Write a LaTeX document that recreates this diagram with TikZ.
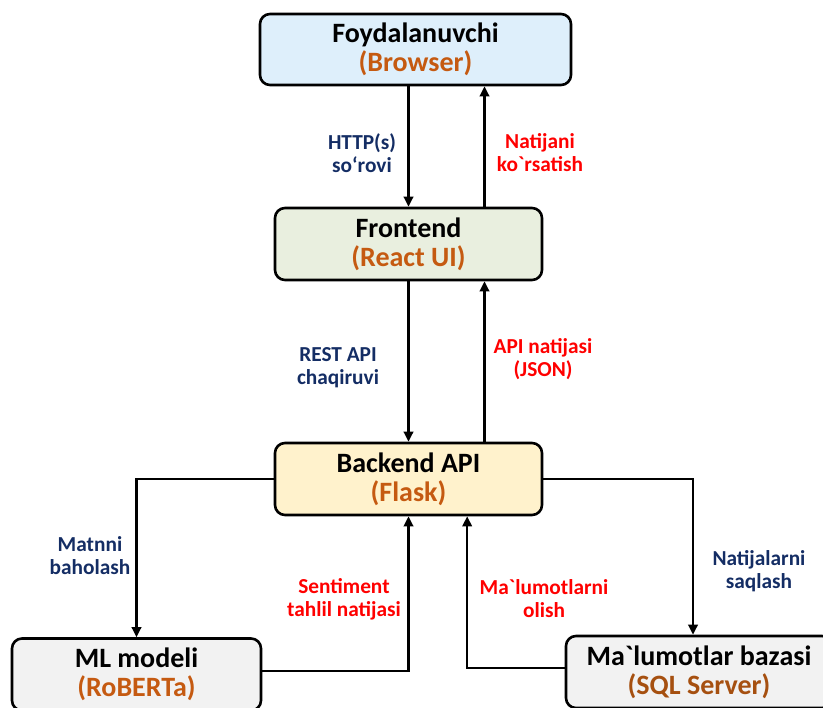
\documentclass[tikz,border=0pt]{standalone}
\usepackage{fontspec}
\setmainfont{Carlito}[Ligatures=TeXOff]
\usepackage{tikz}
\usetikzlibrary{arrows.meta}

\definecolor{userfill}{RGB}{222,239,251}
\definecolor{frontfill}{RGB}{233,239,223}
\definecolor{backfill}{RGB}{255,242,204}
\definecolor{greyfill}{RGB}{242,242,242}
\definecolor{subtxt}{RGB}{197,90,17}
\definecolor{subdark}{RGB}{166,80,16}
\definecolor{navytxt}{RGB}{20,45,100}
\definecolor{redtxt}{RGB}{255,0,0}

\begin{document}
\begin{tikzpicture}[x=0.75pt,y=0.75pt,yscale=-1,xscale=1,
  box/.style={draw=black, line width=1.95pt, rounded corners=7.5pt, align=center, inner sep=0pt, font=\fontsize{21}{21.75}\selectfont\bfseries},
  conn/.style={line width=1.8pt, -{Triangle[length=7.5pt,width=7pt]}},
  lbl/.style={align=center, inner sep=0pt, font=\fontsize{16}{17.25}\selectfont\bfseries}]
%set diagram size 823 x 707
\useasboundingbox (0,0) rectangle (823,707);
\clip (0,0) rectangle (823,707);

% Box Node
\draw (415.5,49.5) node [box, fill=userfill, minimum width=233.25pt, minimum height=53.25pt] (user) {Foydalanuvchi\\\textcolor{subtxt}{(Browser)}};
% Box Node
\draw (408.5,244) node [box, fill=frontfill, minimum width=200.25pt, minimum height=54pt] (front) {Frontend\\\textcolor{subtxt}{(React UI)}};
% Box Node
\draw (408.5,479) node [box, fill=backfill, minimum width=200.25pt, minimum height=54pt] (back) {Backend API\\\textcolor{subtxt}{(Flask)}};
% Box Node
\draw (136.5,674.5) node [box, fill=greyfill, minimum width=186.75pt, minimum height=54pt] (ml) {ML modeli\\\textcolor{subtxt}{(RoBERTa)}};
% Box Node
\draw (699,672) node [box, fill=greyfill, minimum width=199.5pt, minimum height=54pt] (db) {Ma`lumotlar bazasi\\\textcolor{subdark}{(SQL Server)}};

% Text Node
\draw (362,153) node [lbl, text=navytxt] (httpl) {HTTP(s)\\so‘rovi};
% Text Node
\draw (540,153) node [lbl, text=redtxt] (showl) {Natijani\\ko`rsatish};
% Text Node
\draw (338,368) node [lbl, text=navytxt] (restl) {REST API\\chaqiruvi};
% Text Node
\draw (543,359) node [lbl, text=redtxt] (apil) {API natijasi\\(JSON)};
% Text Node
\draw (90,556) node [lbl, text=navytxt] (evall) {Matnni\\baholash};
% Text Node
\draw (344,599) node [lbl, text=redtxt] (sentl) {Sentiment\\tahlil natijasi};
% Text Node
\draw (544,599) node [lbl, text=redtxt] (getl) {Ma`lumotlarni\\olish};
% Text Node
\draw (759,571) node [lbl, text=navytxt] (savel) {Natijalarni\\saqlash};

% Connection
\draw [conn] (front.north |- user.south) -- (front.north);
% Connection
\draw [conn] ([xshift=57pt]front.north) -- ([xshift=57pt]front.north |- user.south);
% Connection
\draw [conn] (front.south) -- (back.north);
% Connection
\draw [conn] ([xshift=57pt]back.north) -- ([xshift=57pt]front.south);
% Connection
\draw [conn] (back.west) -| (ml.north);
% Connection
\draw [conn] ([yshift=-2.6pt]ml.east) -| (back.south);
% Connection
\draw [conn] ([yshift=-3pt]db.west) -| ([xshift=44pt]back.south);
% Connection
\draw [conn] (back.east) -| ([xshift=-4.5pt]db.north);

\end{tikzpicture}
\end{document}
